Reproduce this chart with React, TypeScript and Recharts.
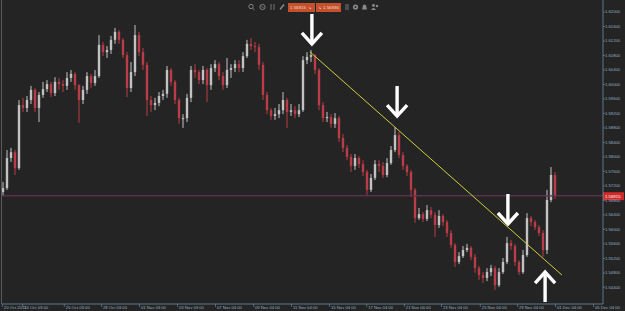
import React from 'react'
import { ComposedChart, Bar, XAxis, YAxis, ReferenceLine, ReferenceDot } from 'recharts'

// GBP/USD candles, 20 Oct - 30 Nov 2011 (each candle ~5 hours, open = previous close)
const firstOpen = 1.5703
const closes = [
  1.5714, 1.5797, 1.5813, 1.5769, 1.5943, 1.5935, 1.5957, 1.5985, 1.5935, 1.5971,
  1.5987, 1.6001, 1.5976, 1.6007, 1.6001, 1.5996, 1.6018, 1.6029, 1.5998, 1.5957,
  1.5985, 1.6023, 1.6004, 1.6023, 1.6109, 1.6089, 1.6095, 1.6123, 1.6145, 1.6123,
  1.6081, 1.599, 1.6034, 1.6136, 1.6089, 1.6054, 1.5957, 1.5943, 1.5949, 1.5968,
  1.5974, 1.604, 1.6007, 1.5957, 1.5907, 1.5907, 1.5963, 1.604, 1.6034, 1.6012,
  1.604, 1.5998, 1.6045, 1.6056, 1.6023, 1.5998, 1.604, 1.6045, 1.6056, 1.6045,
  1.6078, 1.6112, 1.6106, 1.6103, 1.6054, 1.5971, 1.5929, 1.5913, 1.5918, 1.5929,
  1.5957, 1.5924, 1.5929, 1.5918, 1.5929, 1.6067, 1.6076, 1.6081, 1.604, 1.5943,
  1.5907, 1.591, 1.5891, 1.5907, 1.5852, 1.5825, 1.58, 1.5775, 1.5797, 1.578,
  1.5758, 1.5709, 1.5742, 1.578, 1.5775, 1.575, 1.5783, 1.5819, 1.586, 1.5805,
  1.5775, 1.5758, 1.5709, 1.5631, 1.5642, 1.5629, 1.5653, 1.564, 1.5612, 1.5637,
  1.562, 1.559, 1.5557, 1.551, 1.5526, 1.5543, 1.5549, 1.5524, 1.5493, 1.5474,
  1.5466, 1.5482, 1.5493, 1.5446, 1.5482, 1.551, 1.5562, 1.5554, 1.551, 1.5482,
  1.5529, 1.5631, 1.562, 1.5606, 1.559, 1.5543, 1.5681, 1.575, 1.5692,
]
const highs = [
  1.5731, 1.5819, 1.5825, 1.5819, 1.5957, 1.5963, 1.5968, 1.5996, 1.599, 1.5979,
  1.6007, 1.6012, 1.6007, 1.602, 1.6018, 1.6012, 1.6034, 1.604, 1.6034, 1.6001,
  1.5996, 1.6034, 1.6029, 1.604, 1.6136, 1.6117, 1.6106, 1.6134, 1.6156, 1.615,
  1.6128, 1.6089, 1.6062, 1.6164, 1.6145, 1.6101, 1.6062, 1.5968, 1.5963, 1.5979,
  1.5985, 1.6051, 1.6045, 1.6012, 1.5963, 1.5918, 1.5974, 1.6051, 1.6056, 1.604,
  1.6051, 1.6045, 1.6056, 1.6067, 1.6062, 1.6034, 1.6073, 1.6056, 1.6067, 1.6067,
  1.6089, 1.6123, 1.6128, 1.6117, 1.6112, 1.6062, 1.5979, 1.5935, 1.5935, 1.5946,
  1.5979, 1.5963, 1.5946, 1.594, 1.5946, 1.6078, 1.6089, 1.6095, 1.6084, 1.6045,
  1.5951, 1.5924, 1.5918, 1.5921, 1.5913, 1.5863, 1.5833, 1.5808, 1.5808, 1.5802,
  1.5791, 1.5764, 1.5753, 1.5791, 1.5791, 1.5786, 1.5797, 1.583, 1.5882, 1.5869,
  1.5813, 1.578, 1.5764, 1.5714, 1.5659, 1.5648, 1.5667, 1.5662, 1.5648, 1.5653,
  1.5642, 1.5626, 1.5598, 1.5562, 1.5537, 1.5554, 1.556, 1.5554, 1.5532, 1.5499,
  1.5482, 1.5493, 1.5502, 1.5499, 1.5493, 1.5521, 1.5579, 1.5571, 1.556, 1.5515,
  1.5543, 1.5645, 1.5637, 1.5626, 1.5612, 1.5598, 1.5709, 1.5772, 1.5758,
]
const lows = [
  1.5692, 1.5709, 1.5786, 1.575, 1.5764, 1.5924, 1.5924, 1.5946, 1.5924, 1.5896,
  1.5963, 1.5979, 1.5965, 1.5968, 1.5985, 1.5979, 1.5985, 1.6007, 1.5985, 1.5894,
  1.5946, 1.5974, 1.599, 1.5996, 1.6018, 1.6078, 1.6073, 1.6084, 1.6112, 1.6112,
  1.6073, 1.5965, 1.5979, 1.6023, 1.6078, 1.604, 1.5913, 1.5924, 1.5929, 1.594,
  1.5957, 1.5963, 1.5996, 1.5946, 1.5891, 1.588, 1.5896, 1.5951, 1.6018, 1.6001,
  1.6001, 1.5951, 1.5985, 1.6034, 1.6012, 1.5985, 1.599, 1.6018, 1.6034, 1.6034,
  1.6034, 1.6073, 1.6095, 1.6089, 1.604, 1.5957, 1.5918, 1.5902, 1.5902, 1.5907,
  1.5918, 1.588, 1.5913, 1.5907, 1.591, 1.5924, 1.6056, 1.6062, 1.6029, 1.5929,
  1.5896, 1.5896, 1.588, 1.588, 1.5841, 1.5813, 1.5791, 1.5758, 1.5764, 1.5769,
  1.5747, 1.5695, 1.5703, 1.5736, 1.5758, 1.5742, 1.5744, 1.5778, 1.5813, 1.5797,
  1.5764, 1.5747, 1.5689, 1.5618, 1.5626, 1.562, 1.5623, 1.5631, 1.5579, 1.5604,
  1.5609, 1.5579, 1.5549, 1.5496, 1.5504, 1.5521, 1.5537, 1.5515, 1.548, 1.546,
  1.5452, 1.5457, 1.5471, 1.5433, 1.5441, 1.5477, 1.5504, 1.5543, 1.5499, 1.5474,
  1.5477, 1.5524, 1.5609, 1.5598, 1.5582, 1.5524, 1.5532, 1.5675, 1.5684,
]

const priceTicks = [
  1.62, 1.616, 1.612, 1.608, 1.604, 1.6, 1.596, 1.592, 1.588, 1.584,
  1.58, 1.576, 1.572, 1.568, 1.564, 1.56, 1.556, 1.552, 1.548, 1.544,
]
const timeTicks = [-0.3, 4.8, 15.2, 24.5, 34, 43.5, 53, 62.5, 72, 81.5, 90.8, 100.2, 109.5, 119.2, 128.5, 138, 147.5]
const timeLabels = [
  '20 Oct 2011', '24 Oct 03:00', '26 Oct 03:00', '28 Oct 03:00', '01 Nov 03:00', '03 Nov 03:00',
  '07 Nov 04:00', '09 Nov 04:00', '11 Nov 04:00', '15 Nov 04:00', '17 Nov 04:00', '21 Nov 04:00',
  '23 Nov 04:00', '25 Nov 04:00', '29 Nov 04:00', '01 Dec 04:00', '05 Dec 04:00',
]

const bid = 1.56915
const ask = 1.56936
const trendLine = [{ x: 76.6, y: 1.609 }, { x: 139.6, y: 1.5474 }]
const downArrows = [{ x: 77.1, y: 1.6109 }, { x: 98.4, y: 1.591 }, { x: 126.1, y: 1.5612 }]
const upArrows = [{ x: 135.4, y: 1.5485 }]

const candles = closes.map((close, i) => ({
  i,
  open: i === 0 ? firstOpen : closes[i - 1],
  close,
  high: highs[i],
  low: lows[i],
}))

const BG = '#242424'
const BULL = '#c2c2c2'
const BEAR = '#b93c46'
const AXIS = '#6f8fa2'
const LABEL = '#93afc2'
const FONT = 'Liberation Sans, Arial, sans-serif'

function Candle(props: any) {
  const { x, y, width, height, payload } = props
  if (x == null || y == null) return null
  const { open, close, high, low } = payload
  const top = Math.min(y, y + height)
  const h = Math.abs(height)
  const toY = (v: number) => (high === low ? top : top + ((high - v) / (high - low)) * h)
  const color = close >= open ? BULL : BEAR
  const yo = toY(open)
  const yc = toY(close)
  const cx = x + width / 2
  return (
    <g>
      <line x1={cx} x2={cx} y1={top} y2={top + h} stroke={color} strokeWidth={1} />
      <rect x={x + 0.3} y={Math.min(yo, yc)} width={width - 0.6} height={Math.max(1, Math.abs(yc - yo))} fill={color} />
    </g>
  )
}

const arrowShape = (dir: number) => (p: any) => {
  const { cx, cy } = p
  return (
    <g stroke="#ffffff" strokeWidth={3.4} fill="none">
      <line x1={cx} y1={cy - dir * 31} x2={cx} y2={cy - dir * 2} />
      <polyline points={`${cx - 10},${cy - dir * 12} ${cx},${cy - dir * 1} ${cx + 10},${cy - dir * 12}`} />
    </g>
  )
}

function TimeTick(props: any) {
  const { x, y, payload } = props
  const label = timeLabels[timeTicks.indexOf(payload.value)]
  return (
    <g>
      <line x1={x} x2={x} y1={y} y2={y + 3} stroke={AXIS} strokeWidth={0.6} />
      <text x={x + 1.5} y={y + 5.2} fontSize={4.2} fill={LABEL} fontFamily={FONT} textAnchor="start">
        {label}
      </text>
    </g>
  )
}

function BidTag(props: any) {
  const vb = props.viewBox
  if (!vb) return null
  const left = vb.x + vb.width
  return (
    <g>
      <rect x={left} y={vb.y - 4} width={21} height={8} fill="#d22a2a" />
      <text x={left + 2} y={vb.y + 1.6} fontSize={4.3} fill="#ffffff" fontFamily={FONT}>
        {bid.toFixed(5)}
      </text>
    </g>
  )
}

function Toolbar() {
  const grey = '#8a8a8a'
  return (
    <svg width={625} height={16} style={{ position: 'absolute', left: 0, top: 0 }}>
      <circle cx={251} cy={6.5} r={2.2} stroke={grey} fill="none" strokeWidth={0.9} />
      <line x1={252.6} y1={8.2} x2={254.5} y2={10} stroke={grey} strokeWidth={1} />
      <circle cx={262.5} cy={7} r={2.6} stroke={grey} fill="none" strokeWidth={0.9} />
      <line x1={261} y1={5.5} x2={264} y2={8.5} stroke={grey} strokeWidth={0.8} />
      <line x1={271} y1={4} x2={271} y2={10} stroke={grey} strokeWidth={0.8} />
      <line x1={274} y1={4} x2={274} y2={10} stroke={grey} strokeWidth={0.8} />
      <line x1={280} y1={9.5} x2={284} y2={4.5} stroke={grey} strokeWidth={1.4} />
      <rect x={288} y={3} width={27} height={9} fill="#c4502c" />
      <text x={290} y={9.2} fontSize={4.4} fill="#f6dccd" fontFamily={FONT}>1.56915</text>
      <text x={308} y={9.4} fontSize={4.4} fill="#f6dccd" fontFamily={FONT}>↘</text>
      <rect x={316} y={3} width={25} height={9} fill="#c4502c" />
      <text x={318} y={9.4} fontSize={4.4} fill="#f6dccd" fontFamily={FONT}>↘</text>
      <text x={323} y={9.2} fontSize={4.4} fill="#f6dccd" fontFamily={FONT}>1.56936</text>
      <line x1={345} y1={5} x2={349} y2={5} stroke={grey} strokeWidth={0.8} />
      <line x1={345} y1={7} x2={349} y2={7} stroke={grey} strokeWidth={0.8} />
      <line x1={345} y1={9} x2={349} y2={9} stroke={grey} strokeWidth={0.8} />
      <circle cx={355.5} cy={7} r={2.6} fill={grey} />
      <circle cx={355.5} cy={7} r={1} fill={BG} />
      <path d="M362 9.5 L363 5.5 Q364.5 3.5 366 5.5 L367 9.5 Z" fill={grey} />
      <circle cx={373.5} cy={5.5} r={1.4} fill={grey} />
      <path d="M371 10 Q373.5 6 376 10 Z" fill={grey} />
      <circle cx={377} cy={6} r={1.2} fill={grey} />
    </svg>
  )
}

export default function App() {
  return (
    <div style={{ position: 'fixed', left: 0, top: 0, width: 625, height: 311, background: BG, overflow: 'hidden' }}>
      <ComposedChart width={625} height={311} data={candles} margin={{ top: 0, right: 0, bottom: 0, left: 2 }}>
        <XAxis
          dataKey="i"
          type="number"
          domain={[-0.375, 149.875]}
          allowDataOverflow
          ticks={timeTicks}
          interval={0}
          height={7}
          tickSize={0}
          tickMargin={0}
          tickLine={false}
          axisLine={{ stroke: AXIS, strokeWidth: 0.8 }}
          tick={<TimeTick />}
        />
        <YAxis
          orientation="right"
          type="number"
          domain={[1.5394, 1.6233]}
          allowDataOverflow
          ticks={priceTicks}
          interval={0}
          width={22}
          tickSize={2}
          tickMargin={0}
          tickFormatter={(v: number) => v.toFixed(5)}
          tick={{ fontSize: 4.2, fill: LABEL, fontFamily: FONT }}
          tickLine={{ stroke: AXIS, strokeWidth: 0.6 }}
          axisLine={{ stroke: AXIS, strokeWidth: 0.8 }}
        />
        <ReferenceLine y={ask} stroke="#4a4778" strokeWidth={0.8} />
        <ReferenceLine y={bid} stroke="#6c2834" strokeWidth={0.8} label={<BidTag />} />
        <Bar
          dataKey={(d: any) => [d.low, d.high]}
          barSize={3}
          shape={<Candle />}
          isAnimationActive={false}
        />
        <ReferenceLine segment={trendLine} stroke="#cfcf3e" strokeWidth={1} ifOverflow="visible" />
        {downArrows.map((a, k) => (
          <ReferenceDot key={'d' + k} x={a.x} y={a.y} r={1} ifOverflow="visible" shape={arrowShape(1)} />
        ))}
        {upArrows.map((a, k) => (
          <ReferenceDot key={'u' + k} x={a.x} y={a.y} r={1} ifOverflow="visible" shape={arrowShape(-1)} />
        ))}
      </ComposedChart>
      <div style={{ position: 'absolute', left: 1, top: 0, width: 1, height: 304, background: '#5a5a5a' }} />
      <Toolbar />
    </div>
  )
}
